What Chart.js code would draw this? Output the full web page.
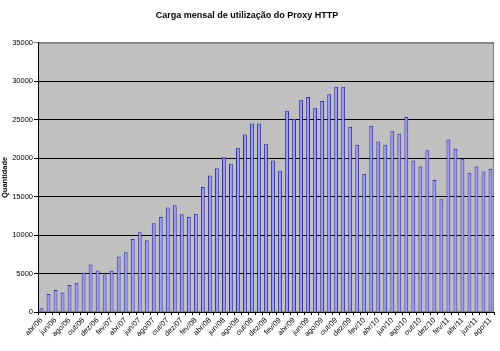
<!DOCTYPE html>
<html>
<head>
<meta charset="utf-8">
<script src="https://cdn.jsdelivr.net/npm/chart.js@4"></script>
<style>
  body { margin: 0; background: #fff; }
  canvas { display: block; }
</style>
</head>
<body>
<canvas id="chart" width="500" height="351"></canvas>
<script>
// Months shown on the x axis (every other one gets a label)
const meses = [
  'abr/06','mai/06','jun/06','jul/06','ago/06','set/06','out/06','nov/06','dez/06',
  'jan/07','fev/07','mar/07','abr/07','mai/07','jun/07','jul/07','ago/07','set/07','out/07','nov/07','dez/07',
  'jan/08','fev/08','mar/08','abr/08','mai/08','jun/08','jul/08','ago/08','set/08','out/08','nov/08','dez/08',
  'jan/09','fev/09','mar/09','abr/09','mai/09','jun/09','jul/09','ago/09','set/09','out/09','nov/09','dez/09',
  'jan/10','fev/10','mar/10','abr/10','mai/10','jun/10','jul/10','ago/10','set/10','out/10','nov/10','dez/10',
  'jan/11','fev/11','mar/11','abr/11','mai/11','jun/11','jul/11','ago/11'
];

// Monthly load of the proxy
const quantidade = [
  500, 2330, 2850, 2550, 3500, 3800, 5100, 6180, 5400,
  4880, 5350, 7200, 7770, 9500, 10370, 9330, 11530, 12350, 13600, 13870, 12700,
  12350, 12790, 16240, 17760, 18700, 20130, 19270, 21340, 23070, 24500, 24500, 21860,
  19700, 18360, 26180, 25100, 27600, 27950, 26570, 27430, 28300, 29290, 29290, 24100,
  21730, 17970, 24230, 22160, 21730, 23500, 23160, 25360, 19700, 18920, 21040, 17150,
  14650, 22420, 21210, 19920, 18100, 18920, 18270, 18620
];

// gray plot area like the old Excel charts
const plotBg = {
  id: 'plotBg',
  beforeDraw(chart) {
    const a = chart.chartArea;
    const ctx = chart.ctx;
    ctx.save();
    ctx.fillStyle = '#c0c0c0';
    ctx.fillRect(a.left, a.top, a.right - a.left, a.bottom - a.top);
    ctx.strokeStyle = '#808080';
    ctx.lineWidth = 1;
    ctx.strokeRect(a.left + 0.5, a.top + 0.5, a.right - a.left - 1, a.bottom - a.top - 1);
    ctx.restore();
  }
};

new Chart(document.querySelector('#chart'), {
  type: 'bar',
  data: {
    labels: meses,
    datasets: [{
      label: 'Quantidade',
      data: quantidade,
      backgroundColor: '#9999ff',
      borderColor: '#333399',
      borderWidth: 1,
      categoryPercentage: 1,
      barPercentage: 0.55
    }]
  },
  options: {
    responsive: false,
    animation: false,
    devicePixelRatio: 1,
    layout: { padding: { left: 0, right: 6, top: 0, bottom: 0 } },
    plugins: {
      legend: { display: false },
      tooltip: { enabled: false },
      title: {
        display: true,
        text: 'Carga mensal de utilização do Proxy HTTP',
        color: '#000',
        font: { family: 'Arial, "Liberation Sans"', size: 9, weight: 'bold' },
        padding: { top: 10, bottom: 22 }
      }
    },
    scales: {
      x: {
        offset: true,
        grid: { display: true, drawOnChartArea: false, color: '#000', tickLength: 3, offset: true },
        border: { color: '#000' },
        ticks: {
          autoSkip: false,
          maxRotation: 45,
          minRotation: 45,
          padding: 1,
          color: '#000',
          font: { family: 'Arial, "Liberation Sans"', size: 7.5 },
          callback: function(v, i) { return i % 2 === 0 ? this.getLabelForValue(v) : ''; }
        },
        afterFit: s => { s.height = 39; }
      },
      y: {
        min: 0,
        max: 35000,
        grid: {
          color: c => (c.tick && c.tick.value === 35000) ? '#808080' : '#000',
          tickLength: 4
        },
        border: { color: '#000' },
        ticks: {
          stepSize: 5000,
          padding: 1,
          color: '#000',
          font: { family: 'Arial, "Liberation Sans"', size: 7.5 },
          callback: v => String(v)
        },
        title: {
          display: true,
          text: 'Quantidade',
          color: '#000',
          font: { family: 'Arial, "Liberation Sans"', size: 7.5, weight: 'bold' },
          padding: { top: 0, bottom: 0 }
        },
        afterFit: s => { s.width = 38; }
      }
    }
  },
  plugins: [plotBg]
});
</script>
</body>
</html>
